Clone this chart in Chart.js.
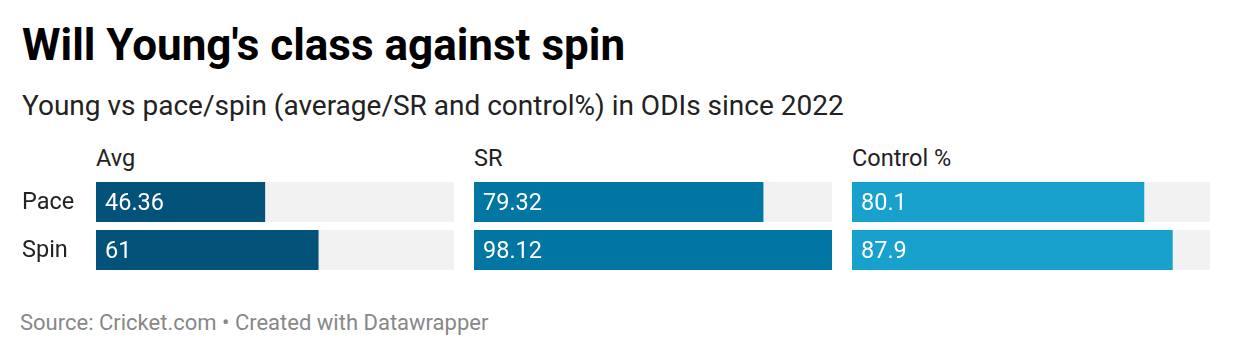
<!DOCTYPE html>
<html><head><meta charset="utf-8">
<script src="https://cdn.jsdelivr.net/npm/chart.js@4"></script>
<style>
html,body{margin:0;padding:0;background:#fff;width:1240px;height:356px;overflow:hidden;font-family:Roboto,sans-serif;}
.t{position:absolute;white-space:nowrap;line-height:1;}
#title{left:22px;top:23px;font-size:44px;font-weight:700;color:#000;}
#sub{left:22px;top:92px;font-size:28px;color:#222;}
.hdr{top:147px;font-size:23.5px;color:#222;}
#foot{left:20px;top:312px;font-size:22px;color:#888;}
canvas{position:absolute;top:178px;}
</style></head><body>
<div id="title" class="t">Will Young's class against spin</div>
<div id="sub" class="t">Young vs pace/spin (average/SR and control%) in ODIs since 2022</div>
<div class="t hdr" style="left:96px">Avg</div>
<div class="t hdr" style="left:474px">SR</div>
<div class="t hdr" style="left:852px">Control %</div>
<canvas id="c0" width="432" height="96" style="left:22px"></canvas>
<canvas id="c1" width="358" height="96" style="left:474px"></canvas>
<canvas id="c2" width="358" height="96" style="left:852px"></canvas>
<div id="foot" class="t">Source: Cricket.com • Created with Datawrapper</div>
<script>
const categories = ['Pace', 'Spin'];
const metricLabels = ['Avg', 'SR', 'Control %'];
const avgValues = [46.36, 61];
const srValues = [79.32, 98.12];
const controlValues = [80.1, 87.9];
const scaleMax = 98.12;

const colors = ['#02527a', '#0176a2', '#19a1cd'];
const series = [avgValues, srValues, controlValues];

const valueLabels = {
  id: 'valueLabels',
  afterDatasetsDraw(chart) {
    const ctx = chart.ctx;
    const meta = chart.getDatasetMeta(1);
    ctx.save();
    ctx.font = '23.5px Roboto';
    ctx.fillStyle = '#fff';
    ctx.textBaseline = 'middle';
    meta.data.forEach((bar, i) => {
      const v = chart.data.datasets[1].data[i];
      ctx.fillText(String(v), bar.base + 9, bar.y + 2);
    });
    ctx.restore();
  }
};

function make(idx) {
  const isFirst = idx === 0;
  const yScale = {
    display: isFirst,
    grid: { display: false },
    border: { display: false },
    ticks: { crossAlign: 'far', padding: 0, labelOffset: 1.5, color: '#222', font: { family: 'Roboto', size: 23.5 } }
  };
  if (isFirst) {
    yScale.afterFit = function (scale) {
      scale.width = 74;
      scale.paddingTop = 0;
      scale.paddingBottom = 0;
    };
  }
  new Chart(document.getElementById('c' + idx), {
    type: 'bar',
    data: {
      labels: categories,
      datasets: [
        { label: 'bg', data: categories.map(() => scaleMax), backgroundColor: '#f2f2f2', grouped: false, order: 2,
          barPercentage: 1, categoryPercentage: 40/48 },
        { label: metricLabels[idx], data: series[idx], backgroundColor: colors[idx], grouped: false, order: 1,
          barPercentage: 1, categoryPercentage: 40/48 }
      ]
    },
    options: {
      indexAxis: 'y',
      responsive: false,
      animation: false,
      layout: { padding: 0 },
      plugins: { legend: { display: false }, tooltip: { enabled: false } },
      scales: {
        x: { display: false, min: 0, max: scaleMax },
        y: yScale
      }
    },
    plugins: [valueLabels]
  });
}

document.fonts.load('23.5px Roboto').then(() => { [0, 1, 2].forEach(make); });
</script>
</body></html>
